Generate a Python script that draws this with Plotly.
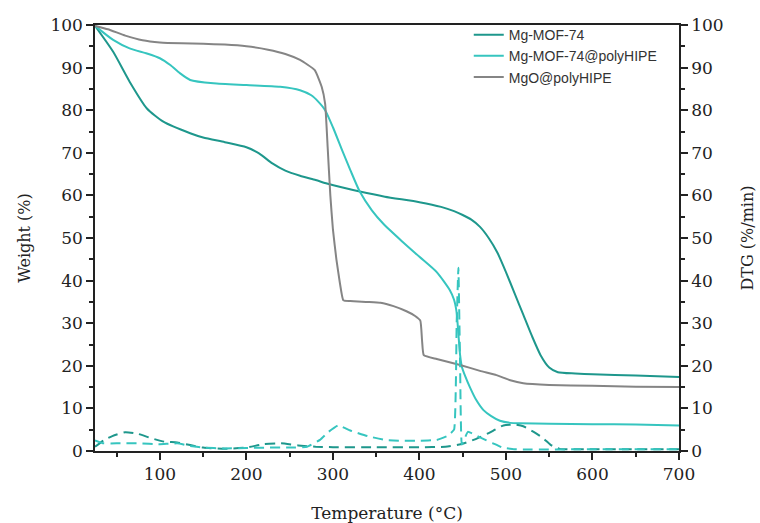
import plotly.graph_objects as go

# ---- TGA data (Weight %) ----
mof_x = [25, 46, 65, 85, 104, 135, 150, 175, 200, 215, 230, 245, 262, 280, 293, 310, 331, 360, 400, 425, 440,
         450, 460, 470, 480, 490, 500, 510, 520, 530, 540, 550, 560, 580, 600, 650, 700]
mof_y = [99.8, 93.7, 86.7, 80.4, 77.3, 74.6, 73.6, 72.5, 71.3, 69.8, 67.5, 65.8, 64.6, 63.6, 62.8, 61.9, 60.9, 59.7, 58.4, 57.3, 56.3,
         55.4, 54.3, 52.6, 50.0, 46.6, 42.0, 37.0, 32.0, 27.0, 22.5, 19.6, 18.5, 18.2, 18.0, 17.7, 17.4]

hipe_x = [25, 46, 65, 85, 100, 112, 123, 135, 162, 200, 239, 262, 275, 283, 291, 300, 312, 320, 331, 345, 358, 380, 400,
          420, 435, 440, 443, 445, 447, 449, 453, 458, 465, 474, 483, 493, 505, 516, 550, 600, 650, 700]
hipe_y = [99.8, 96.5, 94.5, 93.3, 92.2, 90.6, 88.7, 87.1, 86.3, 85.9, 85.5, 84.7, 83.5, 82.0, 80.0, 76.0, 69.9, 66.0, 60.9, 56.5, 53.4, 49.2, 45.6,
          42.0, 37.8, 35.5, 32.5, 27.5, 22.5, 19.8, 17.5, 15.1, 12.2, 9.6, 8.2, 7.1, 6.6, 6.5, 6.4, 6.3, 6.2, 6.0]

mgo_x = [25, 40, 60, 80, 100, 125, 150, 175, 200, 225, 245, 262, 279, 287, 291, 294, 297, 300, 304, 308, 312, 320, 340, 355,
         370, 385, 395, 401, 403, 405, 420, 447, 470, 489, 505, 520, 550, 600, 650, 700]
mgo_y = [99.8, 99.0, 97.5, 96.4, 95.9, 95.7, 95.6, 95.4, 95.0, 94.2, 93.2, 91.8, 89.4, 85.5, 81.5, 71.0, 60.0, 52.0, 45.0, 39.5, 35.4, 35.2, 35.0, 34.8,
         34.0, 32.8, 31.7, 30.6, 26.0, 22.5, 21.6, 20.2, 18.8, 17.8, 16.6, 15.9, 15.5, 15.3, 15.1, 15.0]

# ---- DTG data (%/min) ----
dtg_mof_x = [25, 35, 45, 60, 75, 90, 105, 120, 135, 150, 175, 200, 220, 240, 260, 280, 300, 350, 400, 430, 450,
             465, 480, 497, 510, 520, 532, 543, 552, 562, 600, 650, 700]
dtg_mof_y = [1.0, 2.5, 3.5, 4.4, 4.0, 3.0, 2.2, 2.0, 1.4, 0.8, 0.5, 0.8, 1.6, 1.8, 1.3, 1.0, 0.9, 0.9, 0.9, 1.0, 1.7,
             2.8, 4.2, 6.0, 6.2, 5.8, 4.5, 3.0, 1.4, 0.5, 0.4, 0.4, 0.4]

dtg_hipe_x = [25, 35, 50, 75, 100, 120, 135, 150, 175, 200, 225, 250, 270, 285, 295, 306, 320, 340, 360, 380, 400,
              420, 432, 440, 443, 445, 447, 449, 456, 470, 485, 496, 510, 600, 700]
dtg_hipe_y = [2.5, 1.8, 1.8, 1.8, 1.6, 1.8, 1.2, 0.8, 0.6, 0.7, 0.8, 0.8, 1.0, 2.6, 4.5, 6.0, 4.8, 3.5, 2.6, 2.4, 2.4,
              2.6, 3.5, 5.0, 30.0, 43.0, 20.0, 1.5, 4.5, 3.2, 1.8, 0.8, 0.4, 0.4, 0.4]

names = ["Mg-MOF-74", "Mg-MOF-74@polyHIPE", "MgO@polyHIPE"]
c_mof = "#1e978c"
c_hipe = "#36c5bf"
c_mgo = "#858585"

x_ticks = [100, 200, 300, 400, 500, 600, 700]
y_ticks = [0, 10, 20, 30, 40, 50, 60, 70, 80, 90, 100]

fig = go.Figure()
fig.add_trace(go.Scatter(x=mof_x, y=mof_y, name=names[0], mode="lines",
                         line=dict(color=c_mof, width=2, shape="spline", smoothing=0.6)))
fig.add_trace(go.Scatter(x=hipe_x, y=hipe_y, name=names[1], mode="lines",
                         line=dict(color=c_hipe, width=2, shape="spline", smoothing=0.6)))
fig.add_trace(go.Scatter(x=mgo_x, y=mgo_y, name=names[2], mode="lines",
                         line=dict(color=c_mgo, width=2, shape="spline", smoothing=0.4)))
fig.add_trace(go.Scatter(x=dtg_mof_x, y=dtg_mof_y, name=names[0] + " DTG", mode="lines", yaxis="y2",
                         showlegend=False,
                         line=dict(color=c_mof, width=2, dash="10px,6px", shape="spline", smoothing=0.5)))
fig.add_trace(go.Scatter(x=dtg_hipe_x, y=dtg_hipe_y, name=names[1] + " DTG", mode="lines", yaxis="y2",
                         showlegend=False,
                         line=dict(color=c_hipe, width=2, dash="10px,6px", shape="spline", smoothing=0.3)))

tickfont = dict(family="DejaVu Serif", size=17, color="#222")
ytitlefont = dict(family="DejaVu Serif", size=16, color="#222")
xtitlefont = dict(family="DejaVu Serif", size=17, color="#222")

fig.update_layout(
    width=760, height=523,
    margin=dict(l=95, r=81, t=25, b=72, autoexpand=False),
    paper_bgcolor="white", plot_bgcolor="white",
    showlegend=True,
    legend=dict(x=0.64, y=1.014, xanchor="left", yanchor="top",
                font=dict(family="Liberation Sans", size=14, color="#333"),
                bgcolor="rgba(0,0,0,0)", tracegroupgap=0, itemwidth=30),
    xaxis=dict(range=[25, 700], tickvals=x_ticks, ticks="outside", ticklen=7, tickwidth=1.5,
               tickcolor="#222", showline=True, linecolor="#222", linewidth=1.5, mirror=True,
               showgrid=False, zeroline=False, tickfont=tickfont, automargin=False,
               minor=dict(dtick=50, tick0=0, ticks="outside", ticklen=4, tickwidth=1.5, tickcolor="#222"),
               title=dict(text="Temperature (°C)", font=xtitlefont, standoff=29)),
    yaxis=dict(range=[0, 100], tickvals=y_ticks, ticks="outside", ticklen=7, tickwidth=1.5,
               tickcolor="#222", showline=True, linecolor="#222", linewidth=1.5,
               showgrid=False, zeroline=False, tickfont=tickfont, automargin=False,
               minor=dict(dtick=5, tick0=0, ticks="outside", ticklen=4, tickwidth=1.5, tickcolor="#222"),
               title=dict(text="Weight (%)", font=ytitlefont, standoff=16)),
    yaxis2=dict(range=[0, 100], tickvals=y_ticks, ticks="outside", ticklen=7, tickwidth=1.5,
                tickcolor="#222", showline=True, linecolor="#222", linewidth=1.5,
                overlaying="y", side="right", anchor="x",
                showgrid=False, zeroline=False, tickfont=tickfont, automargin=False,
                minor=dict(dtick=5, tick0=0, ticks="outside", ticklen=4, tickwidth=1.5, tickcolor="#222"),
                title=dict(text="DTG (%/min)", font=ytitlefont, standoff=19)),
)

fig.write_html("out.html")
